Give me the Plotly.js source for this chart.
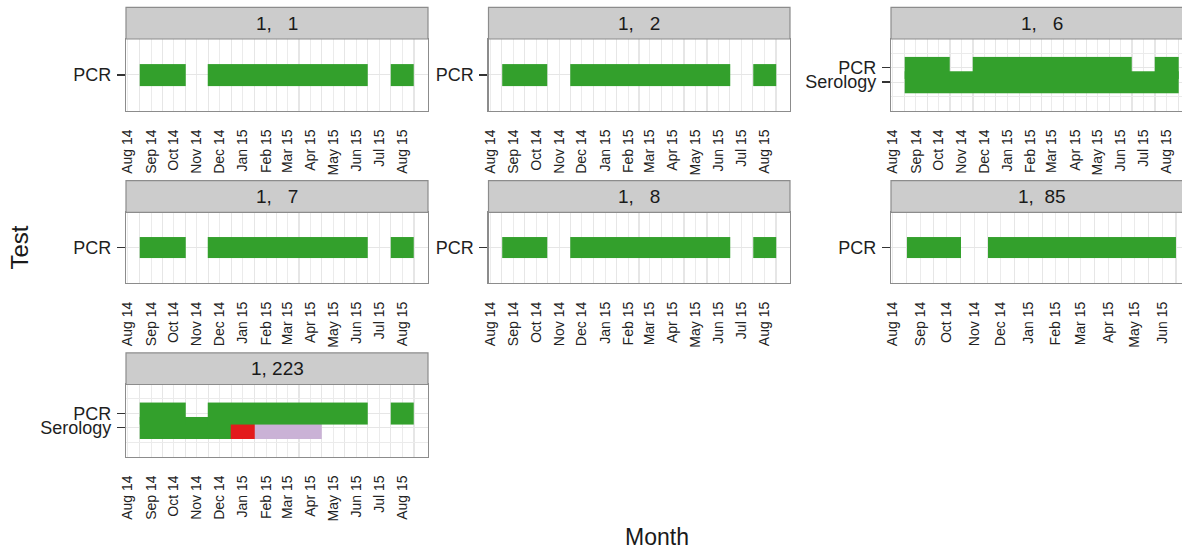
<!DOCTYPE html>
<html>
<head>
<meta charset="utf-8">
<script src="https://cdn.plot.ly/plotly-3.0.1.min.js"></script>
<style>
  html, body { margin: 0; padding: 0; background: #ffffff; }
  #chart { width: 1182px; height: 550px; }
</style>
</head>
<body>
<div id="chart"></div>
<script>
// ---------------- DATA ----------------
// axis months (tick positions) and their labels
const monthDates = ['2014-08-01','2014-09-01','2014-10-01','2014-11-01','2014-12-01','2015-01-01',
                    '2015-02-01','2015-03-01','2015-04-01','2015-05-01','2015-06-01','2015-07-01','2015-08-01'];
const monthLabels = ['Aug 14','Sep 14','Oct 14','Nov 14','Dec 14','Jan 15','Feb 15','Mar 15',
                     'Apr 15','May 15','Jun 15','Jul 15','Aug 15'];
// months that carry tiles (Sep 14 .. Aug 15) and the shorter set for panel "1, 85"
const tileMonths = ['2014-09-01','2014-10-01','2014-11-01','2014-12-01','2015-01-01','2015-02-01',
                    '2015-03-01','2015-04-01','2015-05-01','2015-06-01','2015-07-01','2015-08-01'];
const tileMonths85 = ['2014-09-01','2014-10-01','2014-11-01','2014-12-01','2015-01-01','2015-02-01',
                      '2015-03-01','2015-04-01','2015-05-01','2015-06-01'];

const facetLabels = ['1,   1', '1,   2', '1,   6', '1,   7', '1,   8', '1,  85', '1, 223'];
const testNames = ['PCR', 'Serology'];

// result code per month: 1 = green, 2 = red, 3 = lavender, null = no test
const pcr_1   = [1, 1, null, 1, 1, 1, 1, 1, 1, 1, null, 1];
const pcr_2   = [1, 1, null, 1, 1, 1, 1, 1, 1, 1, null, 1];
const pcr_6   = [1, 1, null, 1, 1, 1, 1, 1, 1, 1, null, 1];
const sero_6  = [1, 1, 1, 1, 1, 1, 1, 1, 1, 1, 1, 1];
const pcr_7   = [1, 1, null, 1, 1, 1, 1, 1, 1, 1, null, 1];
const pcr_8   = [1, 1, null, 1, 1, 1, 1, 1, 1, 1, null, 1];
const pcr_85  = [1, 1, null, 1, 1, 1, 1, 1, 1, 1];
const pcr_223 = [1, 1, null, 1, 1, 1, 1, 1, 1, 1, null, 1];
const sero_223 = [1, 1, 1, 1, 2, 3, 3, 3, null, null, null, null];

const resultColors = ['#33a02c', '#e31a1c', '#cab2d6'];

// ---------------- LAYOUT HELPERS ----------------
const W = 1182, H = 550;
const fx = p => p / W;
const fy = p => 1 - p / H;

const colX = [[126, 428], [488.5, 790], [891, 1182]];
const rowY = [[39, 110.7], [212.3, 283], [384.5, 456.7]];
const stripH = 31.6;
const panelW = 302;

const rangeFull = ['2014-07-29 18:00', '2015-09-04 00:00'];
const rangeCol3 = ['2014-07-29 18:00', '2015-08-21 12:00'];
const range85   = ['2014-07-30 00:00', '2015-06-23 07:00'];

// panel definitions (which data goes where)
const panels = [
  {label: facetLabels[0], col: 0, row: 0, months: tileMonths, tests: [[testNames[0], pcr_1]], ticks: 13, range: rangeFull},
  {label: facetLabels[1], col: 1, row: 0, months: tileMonths, tests: [[testNames[0], pcr_2]], ticks: 13, range: rangeFull},
  {label: facetLabels[2], col: 2, row: 0, months: tileMonths, tests: [[testNames[0], pcr_6], [testNames[1], sero_6]], ticks: 13, range: rangeCol3},
  {label: facetLabels[3], col: 0, row: 1, months: tileMonths, tests: [[testNames[0], pcr_7]], ticks: 13, range: rangeFull},
  {label: facetLabels[4], col: 1, row: 1, months: tileMonths, tests: [[testNames[0], pcr_8]], ticks: 13, range: rangeFull},
  {label: facetLabels[5], col: 2, row: 1, months: tileMonths85, tests: [[testNames[0], pcr_85]], ticks: 11, range: range85},
  {label: facetLabels[6], col: 0, row: 2, months: tileMonths, tests: [[testNames[0], pcr_223], [testNames[1], sero_223]], ticks: 13, range: rangeFull}
];

function fmt(ms) {
  const d = new Date(ms);
  const p = n => String(n).padStart(2, '0');
  return d.getUTCFullYear() + '-' + p(d.getUTCMonth() + 1) + '-' + p(d.getUTCDate()) + ' ' +
         p(d.getUTCHours()) + ':' + p(d.getUTCMinutes());
}
function toMs(s) {
  const [y, m, d] = s.split('-').map(Number);
  return Date.UTC(y, m - 1, d);
}
// minor grid positions: midway between consecutive month ticks
function midMonths(dates) {
  const ms = dates.map(toMs);
  const out = [];
  for (let i = 0; i < ms.length - 1; i++) out.push(fmt((ms[i] + ms[i + 1]) / 2));
  out.push(fmt(ms[ms.length - 1] + (ms[ms.length - 1] - ms[ms.length - 2]) / 2));
  out.unshift(fmt(ms[0] - (ms[1] - ms[0]) / 2));
  return out;
}

const colorscale = [[0, resultColors[0]], [0.33, resultColors[0]], [0.34, resultColors[1]],
                    [0.66, resultColors[1]], [0.67, resultColors[2]], [1, resultColors[2]]];

const traces = [];
const layout = {
  width: W, height: H,
  margin: {l: 0, r: 0, t: 0, b: 0, pad: 0},
  paper_bgcolor: '#ffffff',
  plot_bgcolor: '#ffffff',
  showlegend: false,
  font: {family: 'Liberation Sans, Arial, sans-serif', color: '#1a1a1a'},
  shapes: [],
  annotations: []
};

panels.forEach((p, i) => {
  const k = i + 1;
  const xa = 'xaxis' + (k === 1 ? '' : k);
  const ya = 'yaxis' + (k === 1 ? '' : k);
  const xid = 'x' + (k === 1 ? '' : k);
  const yid = 'y' + (k === 1 ? '' : k);
  const n = p.tests.length;
  const catVals = p.tests.map((t, j) => n - j); // first test on top
  const mid = (n + 1) / 2;

  // draw lower rows first so the top test overlaps them
  for (let j = n - 1; j >= 0; j--) {
    traces.push({
      type: 'heatmap',
      x: p.months,
      y0: catVals[j],
      dy: 1.5,
      z: [p.tests[j][1]],
      zmin: 1, zmax: 3,
      colorscale: colorscale,
      showscale: false,
      hoverinfo: 'skip',
      xaxis: xid, yaxis: yid
    });
  }

  const x0 = colX[p.col][0], x1 = colX[p.col][1];
  const y0 = rowY[p.row][0], y1 = rowY[p.row][1];
  const tickDates = monthDates.slice(0, p.ticks);
  const tickText = monthLabels.slice(0, p.ticks);

  layout[xa] = {
    type: 'date',
    domain: [fx(x0), fx(x1)],
    anchor: yid,
    range: p.range,
    tickmode: 'array',
    tickvals: tickDates,
    ticktext: tickText,
    tickangle: -90,
    ticks: '',
    ticklabelstandoff: 12,
    tickfont: {size: 14, color: '#222222'},
    showgrid: true,
    gridcolor: '#ebebeb',
    gridwidth: 1,
    minor: {tickmode: 'array', tickvals: midMonths(tickDates), showgrid: true, gridcolor: '#e6e6e6', gridwidth: 1.2, ticks: ''},
    showline: true,
    mirror: true,
    linecolor: '#8c8c8c',
    linewidth: 1.2,
    zeroline: false,
    fixedrange: true,
    automargin: false
  };
  layout[ya] = {
    domain: [fy(y1), fy(y0)],
    anchor: xid,
    range: [mid - 2.5, mid + 2.5],
    tickmode: 'array',
    tickvals: catVals,
    ticktext: p.tests.map(t => t[0]),
    ticks: 'outside',
    ticklen: 8,
    tickwidth: 1.3,
    tickcolor: '#333333',
    ticklabelstandoff: 2,
    tickfont: {size: 18, color: '#1f1f1f'},
    showgrid: true,
    gridcolor: '#e6e6e6',
    gridwidth: 1,
    minor: n > 1 ? {tickmode: 'array', tickvals: [0, n + 1], showgrid: true, gridcolor: '#ebebeb', gridwidth: 1, ticks: ''} : {showgrid: false},
    showline: true,
    mirror: p.col === 2 ? false : true,
    linecolor: '#8c8c8c',
    linewidth: 1.2,
    zeroline: false,
    fixedrange: true,
    automargin: false
  };

  // facet strip
  const sx1 = p.col === 2 ? x0 + panelW + 10 : x1;
  layout.shapes.push({
    type: 'rect', xref: 'paper', yref: 'paper',
    x0: fx(x0), x1: fx(sx1), y0: fy(y0), y1: fy(y0 - stripH),
    fillcolor: '#cccccc', line: {color: '#8c8c8c', width: 1.2}
  });
  layout.annotations.push({
    xref: 'paper', yref: 'paper',
    x: fx(x0 + panelW / 2), y: fy(y0 - stripH / 2),
    xanchor: 'center', yanchor: 'middle',
    text: p.label.replace(/ /g, '\u00a0'),
    showarrow: false,
    font: {size: 19, color: '#1a1a1a'}
  });
});

// axis titles
layout.annotations.push({
  xref: 'paper', yref: 'paper', x: fx(19), y: fy(247.5),
  xanchor: 'center', yanchor: 'middle', textangle: -90,
  text: 'Test', showarrow: false, font: {size: 24, color: '#1a1a1a'}
});
layout.annotations.push({
  xref: 'paper', yref: 'paper', x: fx(657), y: fy(537),
  xanchor: 'center', yanchor: 'middle',
  text: 'Month', showarrow: false, font: {size: 23, color: '#1a1a1a'}
});

Plotly.newPlot('chart', traces, layout, {staticPlot: true, displayModeBar: false});
</script>
</body>
</html>
